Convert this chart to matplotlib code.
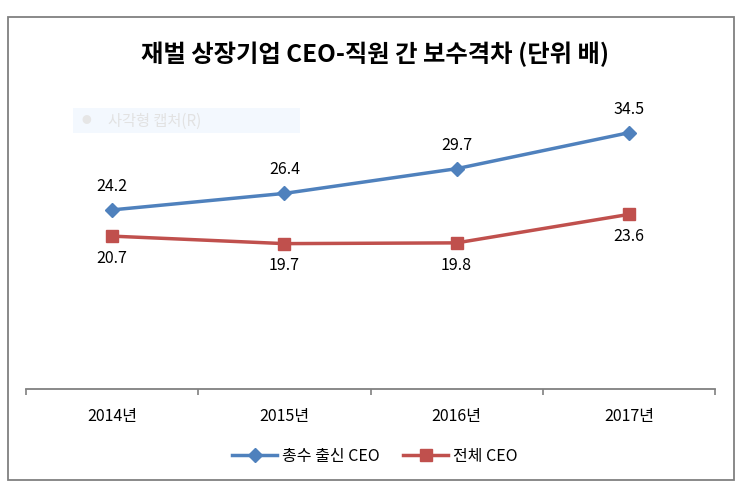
import matplotlib
matplotlib.use('Agg')
import matplotlib.pyplot as plt
from matplotlib.patches import Rectangle

plt.rcParams['font.family'] = ['Noto Sans CJK KR', 'DejaVu Sans']

years = ['2014년', '2015년', '2016년', '2017년']
owner_ceo = [24.2, 26.4, 29.7, 34.5]
all_ceo = [20.7, 19.7, 19.8, 23.6]
series_names = ['총수 출신 CEO', '전체 CEO']
title = '재벌 상장기업 CEO-직원 간 보수격차 (단위 배)'

blue = '#4F81BD'
red = '#C0504D'

fig = plt.figure(figsize=(7.54, 5.0), dpi=100)
# outer chart border
fig.add_artist(Rectangle((8 / 754, 1 - 480 / 500), 726 / 754, 463 / 500,
                         transform=fig.transFigure, fill=False,
                         edgecolor='#808080', linewidth=1.3))

ax = fig.add_axes([26 / 754, 1 - 389 / 500, 689 / 754, 0.595])
x = range(len(years))
ax.plot(x, owner_ceo, color=blue, lw=2.5, marker='D', ms=7.5, label=series_names[0])
ax.plot(x, all_ceo, color=red, lw=2.5, marker='s', ms=9, label=series_names[1])

for i, v in enumerate(owner_ceo):
    ax.annotate(f'{v}', (i, v), xytext=(0, 17), textcoords='offset points',
                ha='center', va='center', fontsize=11.5)
for i, v in enumerate(all_ceo):
    ax.annotate(f'{v}', (i, v), xytext=(0, -16), textcoords='offset points',
                ha='center', va='center', fontsize=11.5)

ax.set_xlim(-0.5, len(years) - 0.5)
ax.set_ylim(0.3, 40)
ax.set_yticks([])
ax.set_xticks([i - 0.5 for i in range(len(years) + 1)], minor=False)
ax.set_xticklabels([])
ax.set_xticks(list(x), minor=True)
ax.set_xticklabels(years, minor=True, fontsize=11.5)
ax.tick_params(axis='x', which='major', length=4, width=1.2, color='#808080')
ax.tick_params(axis='x', which='minor', length=0, pad=14)
for s in ['top', 'left', 'right']:
    ax.spines[s].set_visible(False)
ax.spines['bottom'].set_color('#808080')
ax.spines['bottom'].set_linewidth(1.3)
ax.patch.set_alpha(0)

fig.text(0.497, 1 - 54 / 500, title, ha='center', va='center',
         fontsize=17.5, fontweight='bold')

# faint screen-capture artifact in the reference
fig.add_artist(Rectangle((73 / 754, 1 - 133 / 500), 227 / 754, 25 / 500,
                         transform=fig.transFigure, facecolor='#f3f8fe',
                         edgecolor='none'))
fig.text(86 / 754, 1 - 120 / 500, '●', color='#e6e6e6', fontsize=7,
         ha='center', va='center')
fig.text(108 / 754, 1 - 121 / 500, '사각형 캡처(R)', color='#e2e2e2',
         fontsize=11, ha='left', va='center')

fig.legend(loc='center', bbox_to_anchor=(0.497, 1 - 456 / 500), ncol=2,
           frameon=False, fontsize=11.5, handlelength=2.8, columnspacing=1.5,
           handletextpad=0.3)

fig.savefig('out.png', dpi=100)
